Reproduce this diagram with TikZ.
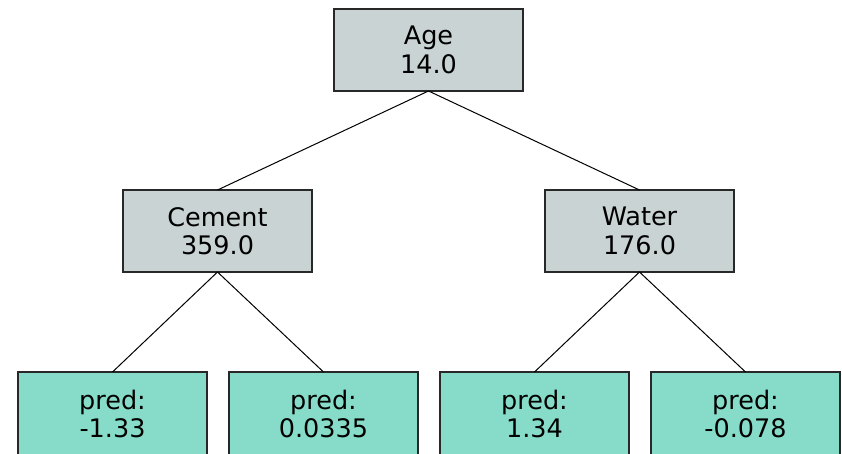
\documentclass[tikz,border=0pt]{standalone}
\usepackage{fontspec}
\setmainfont{DejaVu Sans}
\definecolor{cc9d3d4}{RGB}{201,211,212}
\definecolor{c86dcc8}{RGB}{134,220,200}
\definecolor{c333333}{RGB}{40,40,40}
\tikzset{
  split/.style={draw=c333333, fill=cc9d3d4, line width=1.5pt, minimum width=189pt,
    minimum height=82pt, align=center, font=\fontsize{25.5}{28.5}\selectfont},
  leaf/.style={split, fill=c86dcc8, minimum height=84pt},
  branch/.style={draw=black, line width=1pt}
}

\begin{document}
\begin{tikzpicture}[y=1pt, x=1pt, yscale=-1, inner sep=0pt, outer sep=0pt]
\useasboundingbox (0,0) rectangle (842,454);
  \node[split] (age) at (428.5,50) {Age\\14.0};
  \node[split] (cement) at (217.5,231) {Cement\\359.0};
  \node[split] (water) at (639.5,231) {Water\\176.0};
  \node[leaf] (leaf1) at (112.5,414) {pred:\\-1.33};
  \node[leaf] (leaf2) at (323.5,414) {pred:\\0.0335};
  \node[leaf] (leaf3) at (534.5,414) {pred:\\1.34};
  \node[leaf] (leaf4) at (745.5,414) {pred:\\-0.078};
  \draw[branch] (age.south) -- (cement.north);
  \draw[branch] (age.south) -- (water.north);
  \draw[branch] (cement.south) -- (leaf1.north);
  \draw[branch] (cement.south) -- (leaf2.north);
  \draw[branch] (water.south) -- (leaf3.north);
  \draw[branch] (water.south) -- (leaf4.north);
\end{tikzpicture}
\end{document}
